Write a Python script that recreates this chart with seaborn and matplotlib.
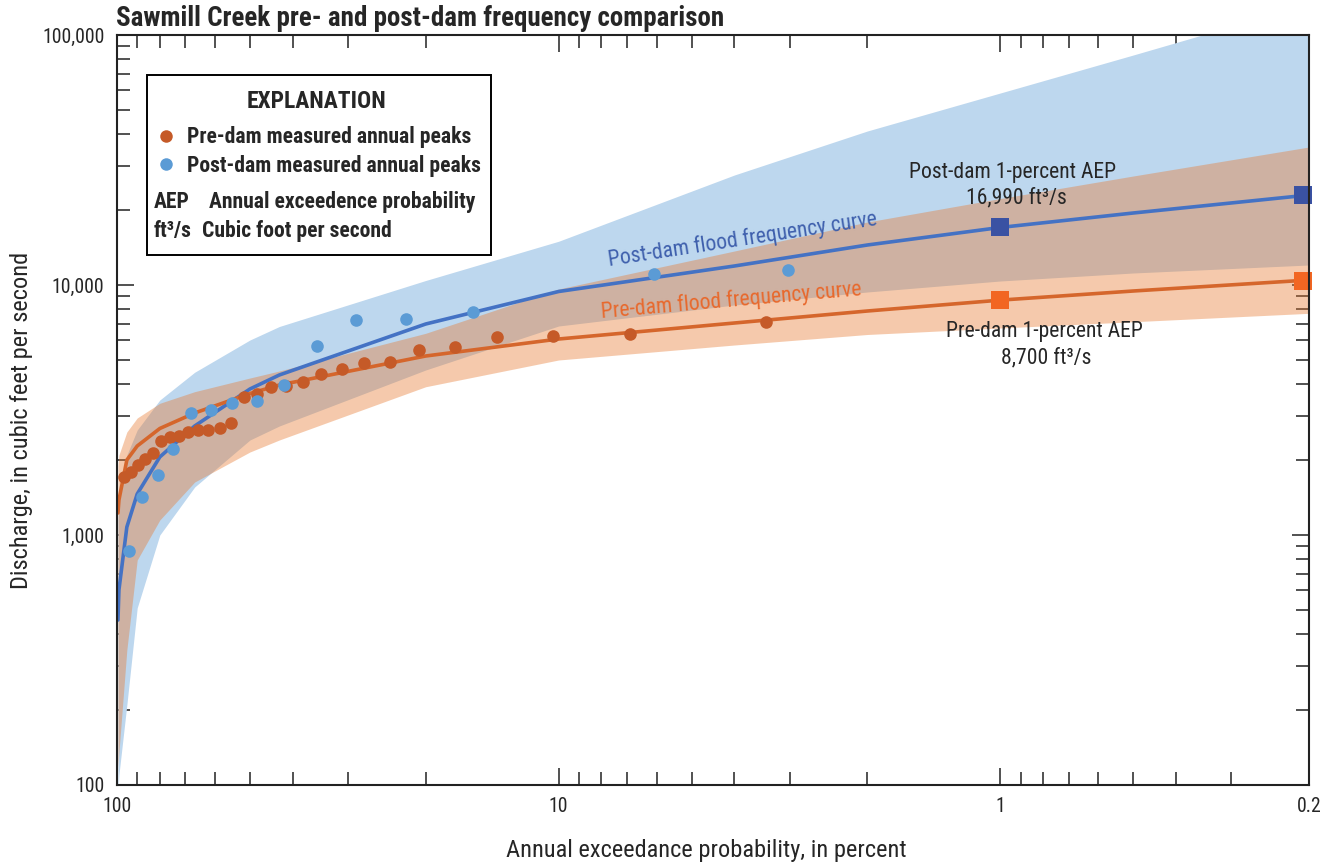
import numpy as np
import pandas as pd
import matplotlib
matplotlib.use("Agg")
import matplotlib.pyplot as plt
import seaborn as sns
from matplotlib import font_manager
from matplotlib.ticker import LogLocator, FixedLocator, FixedFormatter, NullFormatter
from matplotlib.patches import Rectangle
from matplotlib.lines import Line2D

# ---------------- data ----------------
pre_peak_aep = [96.6, 93.1, 89.7, 86.2, 82.8, 79.3, 75.9, 72.4, 69.0, 65.5, 62.1, 58.6, 55.2,
                51.7, 48.3, 44.8, 41.4, 37.9, 34.5, 31.0, 27.6, 24.1, 20.7, 17.2, 13.8, 10.3, 6.9, 3.4]
pre_peak_q = [1710, 1780, 1900, 2010, 2120, 2380, 2460, 2490, 2590, 2620, 2630, 2670, 2810,
              3570, 3650, 3900, 3960, 4090, 4420, 4630, 4890, 4940, 5510, 5670, 6180, 6230, 6370, 7090]

post_peak_aep = [93.9, 87.7, 80.8, 74.5, 68.0, 61.3, 54.8, 48.3, 41.8, 35.2, 28.7, 22.2, 15.6, 6.07, 3.03]
post_peak_q = [863, 1420, 1740, 2200, 3080, 3160, 3380, 3430, 3970, 5690, 7220, 7290, 7780, 11070, 11480]

curve_aep = [99.5, 99, 95, 90, 80, 66.7, 50, 42.9, 20, 10, 4, 2, 1, 0.5, 0.2]
pre_curve_q = [1225, 1380, 1995, 2270, 2667, 3076, 3681, 3981, 5200, 6081, 7047, 7870, 8700, 9462, 10471]
pre_upper_q = [1888, 2089, 2582, 2938, 3364, 3744, 4246, 4529, 6409, 9638, 13677, 17865, 22182, 27290, 35645]
pre_lower_q = [118, 135, 347, 794, 1148, 1629, 2148, 2399, 3918, 5012, 5754, 6339, 6730, 7129, 7704]
post_curve_q = [457, 603, 1076, 1459, 2051, 2729, 3837, 4365, 6982, 9419, 11912, 14454, 16990, 19409, 22909]
post_upper_q = [1148, 1380, 2089, 2630, 3467, 4477, 6026, 6823, 10423, 14962, 27542, 41305, 58614, 83176, 133045]
post_lower_q = [94, 110, 209, 511, 1000, 1556, 2399, 2729, 4571, 6855, 8318, 9376, 10375, 11169, 12023]

marker_aep = [1, 0.206]
pre_marker_q = [8700, 10420]
post_marker_q = [16990, 23000]

x_ticks = [100, 10, 1, 0.2]
x_tick_labels = ["100", "10", "1", "0.2"]
y_ticks = [100, 1000, 10000, 100000]
y_tick_labels = ["100", "1,000", "10,000", "100,000"]

# ---------------- style ----------------
sns.set_style("ticks")
available = {f.name for f in font_manager.fontManager.ttflist}
candidates = ["Liberation Sans Narrow", "DejaVu Sans Condensed", "Roboto Condensed",
              "Open Sans Condensed", "Roboto", "DejaVu Sans"]
FONT = [c for c in candidates if c in available] + ["DejaVu Sans"]
plt.rcParams["font.family"] = FONT
plt.rcParams["font.size"] = 15

W, H = 1332, 865
fig = plt.figure(figsize=(W / 100, H / 100), dpi=100)
ax = fig.add_axes([117 / W, 1 - 785 / H, (1309 - 117) / W, (785 - 35) / H])
renderer = fig.canvas.get_renderer()


def fx(x):
    return x / W


def fy(y):
    return 1 - y / H


def fit_size(s, target_px, weight="normal", base=15.0):
    t = fig.text(0, 0, s, fontsize=base, fontweight=weight)
    w = t.get_window_extent(renderer=renderer).width
    t.remove()
    return base * target_px / w


def ptext(x, y, s, size, weight="normal", **kw):
    return fig.text(fx(x), fy(y), s, fontsize=size, fontweight=weight, **kw)


ax.set_xscale("log")
ax.set_yscale("log")

BLUE_BAND = "#bdd7ee"
ORANGE_BAND = "#e87a30"
PRE_LINE = "#d5662c"
PRE_DOT = "#c55a28"
POST_LINE = "#4472c4"
POST_DOT = "#5b9bd5"

ax.fill_between(curve_aep, post_lower_q, post_upper_q, color=BLUE_BAND, lw=0, zorder=1)
ax.fill_between(curve_aep, pre_lower_q, pre_upper_q, color=ORANGE_BAND, alpha=0.4, lw=0, zorder=2)

curves = pd.DataFrame({"aep": curve_aep, "pre": pre_curve_q, "post": post_curve_q})
sns.lineplot(data=curves, x="aep", y="post", ax=ax, color=POST_LINE, lw=2.6, sort=False,
             estimator=None, zorder=3)
sns.lineplot(data=curves, x="aep", y="pre", ax=ax, color=PRE_LINE, lw=2.6, sort=False,
             estimator=None, zorder=3)

sns.scatterplot(x=pre_peak_aep, y=pre_peak_q, ax=ax, color=PRE_DOT, s=82, linewidth=0, zorder=4)
sns.scatterplot(x=post_peak_aep, y=post_peak_q, ax=ax, color=POST_DOT, s=82, linewidth=0, zorder=5)

sns.scatterplot(x=marker_aep, y=post_marker_q, ax=ax, color="#3a52a3", marker="s", s=185,
                linewidth=0, zorder=6, clip_on=False)
sns.scatterplot(x=marker_aep, y=pre_marker_q, ax=ax, color="#f26622", marker="s", s=185,
                linewidth=0, zorder=6, clip_on=False)

ax.set_xlim(100, 0.2)
ax.set_ylim(100, 100000)

tick_size = fit_size("100,000", 62)
ax.xaxis.set_major_locator(FixedLocator(x_ticks))
ax.xaxis.set_major_formatter(FixedFormatter(x_tick_labels))
ax.xaxis.set_minor_locator(LogLocator(base=10, subs=np.arange(2, 10), numticks=20))
ax.xaxis.set_minor_formatter(NullFormatter())
ax.yaxis.set_major_locator(FixedLocator(y_ticks))
ax.yaxis.set_major_formatter(FixedFormatter(y_tick_labels))
ax.yaxis.set_minor_locator(LogLocator(base=10, subs=np.arange(2, 10), numticks=20))
ax.yaxis.set_minor_formatter(NullFormatter())

ax.tick_params(which="both", direction="in", top=True, right=True, color="#222222",
               labelsize=tick_size, width=1.1)
ax.tick_params(which="major", length=12.5)
ax.tick_params(axis="x", which="major", pad=9)
ax.tick_params(axis="y", which="major", pad=9)
ax.tick_params(which="minor", length=9.3)
for s in ax.spines.values():
    s.set_linewidth(1.5)
    s.set_color("#222222")
    s.set_zorder(7)

xl = "Annual exceedance probability, in percent"
yl = "Discharge, in cubic feet per second"
ax.set_xlabel(xl, fontsize=fit_size(xl, 400))
ax.set_ylabel(yl, fontsize=fit_size(yl, 338))
ax.xaxis.set_label_coords((706.5 - 117) / 1192, -(839 - 785) / 750)
ax.yaxis.set_label_coords(-(117 - 33) / 1192, (785 - 420) / 750)

# title
ptext(116, 26, "Sawmill Creek pre- and post-dam frequency comparison",
      fit_size("Sawmill Creek pre- and post-dam frequency comparison", 608, "bold"), "bold",
      ha="left", va="baseline")

# explanation box
fig.add_artist(Rectangle((fx(147), fy(255)), fx(491) - fx(147), fy(75) - fy(255),
                         transform=fig.transFigure, fill=True, facecolor="white",
                         edgecolor="black", lw=1.4, zorder=10))
leg_size = fit_size("Pre-dam measured annual peaks", 284, "bold")
ptext(317, 108, "EXPLANATION", fit_size("EXPLANATION", 140, "bold"), "bold",
      ha="center", va="baseline", zorder=11)
fig.add_artist(Line2D([fx(166)], [fy(136)], marker="o", ms=9, color=PRE_DOT, mec="none",
                      transform=fig.transFigure, zorder=11))
fig.add_artist(Line2D([fx(166)], [fy(164)], marker="o", ms=9, color=POST_DOT, mec="none",
                      transform=fig.transFigure, zorder=11))
ptext(187, 143, "Pre-dam measured annual peaks", leg_size, "bold", ha="left", va="baseline", zorder=11)
ptext(187, 172, "Post-dam measured annual peaks", leg_size, "bold", ha="left", va="baseline", zorder=11)
ptext(154, 208, "AEP", leg_size, "bold", ha="left", va="baseline", zorder=11)
ptext(209, 208, "Annual exceedence probability", leg_size, "bold", ha="left", va="baseline", zorder=11)
ptext(154, 237, "ft³/s", leg_size, "bold", ha="left", va="baseline", zorder=11)
ptext(202, 237, "Cubic foot per second", leg_size, "bold", ha="left", va="baseline", zorder=11)

# annotations
ann_size = fit_size("Post-dam 1-percent AEP", 208)
ptext(1013, 178, "Post-dam 1-percent AEP", ann_size, ha="center", va="baseline")
ptext(1016, 203, "16,990 ft³/s", ann_size, ha="center", va="baseline")
ptext(1044, 337, "Pre-dam 1-percent AEP", ann_size, ha="center", va="baseline")
ptext(1046, 363, "8,700 ft³/s", ann_size, ha="center", va="baseline")

ptext(609, 266.5, "Post-dam flood frequency curve",
      fit_size("Post-dam flood frequency curve", 272), color="#3f60ad",
      ha="left", va="baseline", rotation=8.7, rotation_mode="anchor")
ptext(602, 318, "Pre-dam flood frequency curve",
      fit_size("Pre-dam flood frequency curve", 262), color="#e8692d",
      ha="left", va="baseline", rotation=5.0, rotation_mode="anchor")

fig.savefig("out.png", dpi=100)
